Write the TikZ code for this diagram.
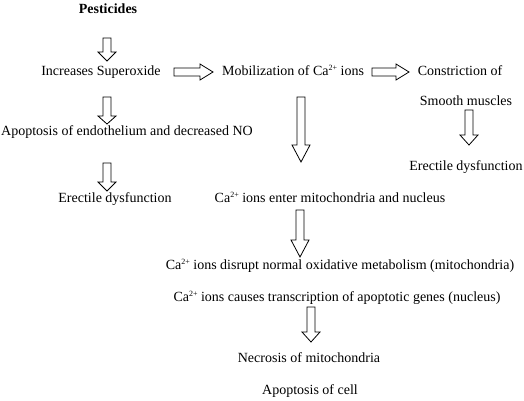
\documentclass[tikz,border=0pt]{standalone}
\usepackage{fontspec}
\setmainfont{Liberation Serif}
\usepackage{xcolor}
\usetikzlibrary{calc, positioning}

\tikzset{
  lbl/.style={font=\fontsize{14}{16}\selectfont, inner sep=0pt, text height=9.5pt, text depth=3pt, align=center},
  blockarrow/.style={draw=black, line width=0.8pt, fill=white, line join=miter}
}

% calcium ion with small raised charge
\newcommand{\caion}{Ca\raisebox{5pt}{\fontsize{8}{8}\selectfont 2+}}

% hollow block arrows between two named points (optional: head length)
\newcommand{\hollowdown}[3][10pt]{%
  \draw[blockarrow] let \p1=(#2), \p2=(#3) in
    (\x1-4pt,\y1) -- (\x1+4pt,\y1) -- (\x1+4pt,\y2+#1) -- (\x1+9pt,\y2+#1)
    -- (\x1,\y2) -- (\x1-9pt,\y2+#1) -- (\x1-4pt,\y2+#1) -- cycle;}
\newcommand{\hollowright}[3][13pt]{%
  \draw[blockarrow] let \p1=(#2), \p2=(#3) in
    (\x1,\y1+4pt) -- (\x2-#1,\y1+4pt) -- (\x2-#1,\y1+8pt) -- (\x2,\y1)
    -- (\x2-#1,\y1-8pt) -- (\x2-#1,\y1-4pt) -- (\x1,\y1-4pt) -- cycle;}

\begin{document}
\begin{tikzpicture}[x=1pt, y=-1pt]
  \useasboundingbox (0,0) rectangle (524,401);

  % Left branch
  \node[lbl, font=\fontsize{14}{16}\selectfont\bfseries] (pest) at (108,10) {Pesticides};
  \node[lbl] (super) at (101,72) {Increases Superoxide};
  \node[lbl] (endo) at (127,132) {Apoptosis of endothelium and decreased NO};
  \node[lbl] (edleft) at (115,199) {Erectile dysfunction};

  % Top row
  \node[lbl] (mobil) at (293,72) {Mobilization of \caion{} ions};
  \node[lbl] (constr) at (460,72) {Constriction of};
  \node[lbl] (smooth) at (466,102) {Smooth muscles};
  \node[lbl] (edright) at (466,167) {Erectile dysfunction};

  % Calcium cascade
  \node[lbl] (enter) at (330,199) {\caion{} ions enter mitochondria and nucleus};
  \node[lbl] (disrupt) at (340,266) {\caion{} ions disrupt normal oxidative metabolism (mitochondria)};
  \node[lbl] (transc) at (337,298) {\caion{} ions causes transcription of apoptotic genes (nucleus)};
  \node[lbl] (necro) at (309,359) {Necrosis of mitochondria};
  \node[lbl] (apocell) at (310,391) {Apoptosis of cell};

  % Arrow end points
  \coordinate (pest-s) at (107,38);   \coordinate (super-n) at (107,61);
  \coordinate (super-e) at (174,72);  \coordinate (mobil-w) at (213,72);
  \coordinate (mobil-e) at (372,72);  \coordinate (constr-w) at (409,72);
  \coordinate (super-s) at (107,97);  \coordinate (endo-n) at (107,124);
  \coordinate (endo-s) at (107,163);  \coordinate (edleft-n) at (107,191);
  \coordinate (mobil-s) at (301,97);  \coordinate (enter-n) at (301,162);
  \coordinate (smooth-s) at (469,110); \coordinate (edright-n) at (469,145);
  \coordinate (enter-s) at (300,210); \coordinate (disrupt-n) at (300,257);
  \coordinate (transc-s) at (311,307); \coordinate (necro-n) at (311,342);

  % Arrows
  \hollowdown[9pt]{pest-s}{super-n}
  \hollowright{super-e}{mobil-w}
  \hollowright{mobil-e}{constr-w}
  \hollowdown[8pt]{super-s}{endo-n}
  \hollowdown[9pt]{endo-s}{edleft-n}
  \hollowdown[17pt]{mobil-s}{enter-n}
  \hollowdown{smooth-s}{edright-n}
  \hollowdown[17pt]{enter-s}{disrupt-n}
  \hollowdown{transc-s}{necro-n}
\end{tikzpicture}
\end{document}
